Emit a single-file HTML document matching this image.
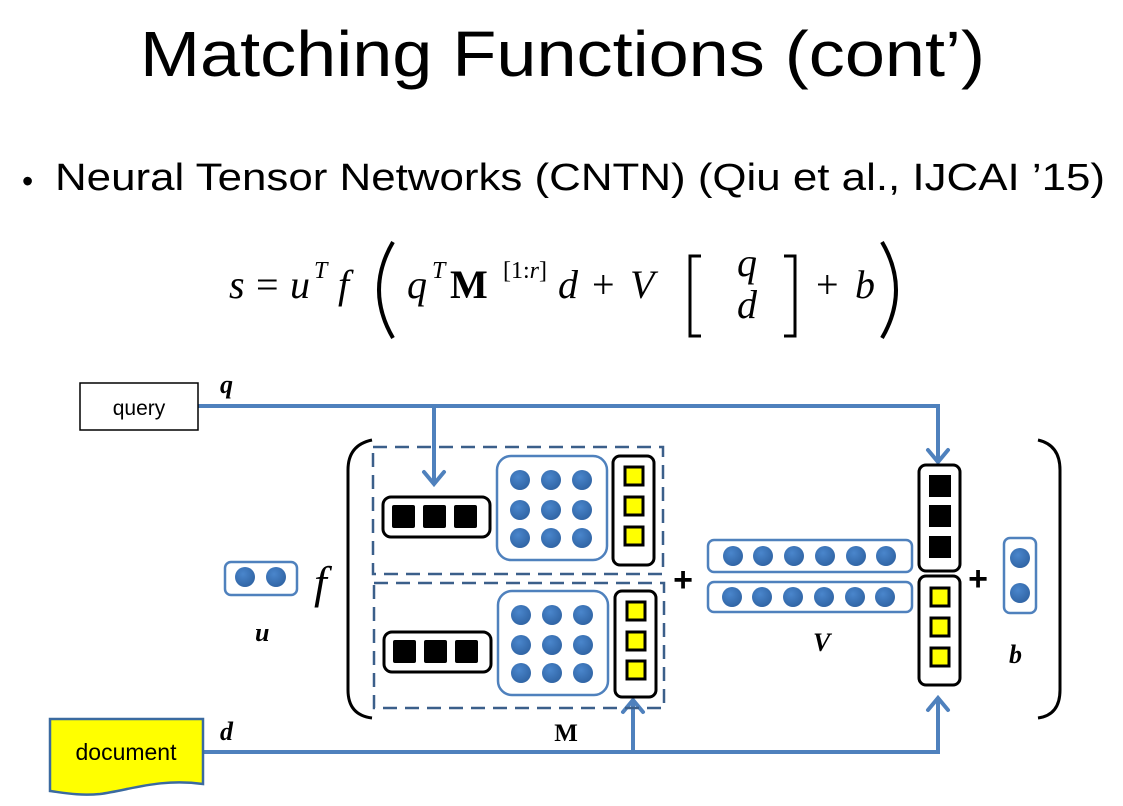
<!DOCTYPE html>
<html><head><meta charset="utf-8"><style>
html,body{margin:0;padding:0;background:#fff;}
svg{display:block;}
</style></head><body>
<svg width="1123" height="806" viewBox="0 0 1123 806" xmlns="http://www.w3.org/2000/svg">
<defs>
<radialGradient id="dg" cx="40%" cy="35%" r="70%"><stop offset="0" stop-color="#4a86cc"/><stop offset="1" stop-color="#2f63a3"/></radialGradient>
</defs>
<g font-family="Liberation Sans, sans-serif" fill="#000">
<text x="140" y="76" font-size="64" textLength="845" lengthAdjust="spacingAndGlyphs">Matching Functions (cont’)</text>
<text x="22" y="192" font-size="32">•</text>
<text x="55" y="190" font-size="38" textLength="1050" lengthAdjust="spacingAndGlyphs">Neural Tensor Networks (CNTN) (Qiu et al., IJCAI ’15)</text>
</g>
<!-- formula -->
<g font-family="Liberation Serif, serif" font-size="40" fill="#000">
<text x="229" y="298" font-style="italic">s</text>
<text x="256" y="298">=</text>
<text x="290" y="298" font-style="italic">u</text>
<text x="314" y="278" font-size="24" font-style="italic">T</text>
<text x="338" y="298" font-style="italic">f</text>
<path d="M393,242 Q365,290 393,338" stroke="#000" stroke-width="4" fill="none"/>
<text x="407" y="298" font-style="italic">q</text>
<text x="432" y="278" font-size="24" font-style="italic">T</text>
<text x="450" y="298" font-weight="bold">M</text>
<text x="503" y="278" font-size="24">[1:<tspan font-style="italic">r</tspan>]</text>
<text x="558" y="298" font-style="italic">d</text>
<text x="592" y="298">+</text>
<text x="630" y="298" font-style="italic">V</text>
<path d="M701,256 H690 V336 H701" stroke="#000" stroke-width="3" fill="none"/>
<text x="737" y="276" font-style="italic">q</text>
<text x="737" y="318" font-style="italic">d</text>
<path d="M784,256 H795 V336 H784" stroke="#000" stroke-width="3" fill="none"/>
<text x="816" y="298">+</text>
<text x="855" y="298" font-style="italic">b</text>
<path d="M882,242 Q910,290 882,338" stroke="#000" stroke-width="4" fill="none"/>
</g>
<!-- connectors -->
<g stroke="#4f81bd" stroke-width="4" fill="none">
<path d="M198,406 H938 V460"/>
<path d="M434,406 V483"/>
<path d="M203,752 H938 V700"/>
<path d="M633,752 V702"/>
</g>
<g stroke="#4f81bd" stroke-width="4" fill="none" stroke-linecap="round">
<path d="M424,472 L434,484 L444,472"/>
<path d="M928,450 L938,462 L948,450"/>
<path d="M623,712 L633,700 L643,712"/>
<path d="M928,710 L938,698 L948,710"/>
</g>
<!-- query / document -->
<rect x="80" y="383" width="118" height="47" fill="#fff" stroke="#000" stroke-width="1.5"/>
<text x="139" y="415" font-family="Liberation Sans, sans-serif" font-size="21" text-anchor="middle">query</text>
<path d="M50,719 H203 V784 C160,778 130,790 100,794 C80,796 65,793 50,791 Z" fill="#ffff00" stroke="#3b6aa0" stroke-width="2.5"/>
<text x="126" y="760" font-family="Liberation Sans, sans-serif" font-size="23" text-anchor="middle">document</text>
<g font-family="Liberation Serif, serif" font-style="italic" font-size="26" font-weight="bold">
<text x="220" y="393">q</text>
<text x="220" y="740">d</text>
<text x="255" y="641">u</text>
<text x="813" y="651">V</text>
<text x="1009" y="663">b</text>
</g>
<text x="314" y="598" font-family="Liberation Serif, serif" font-style="italic" font-size="46">f</text>
<text x="566" y="741" font-family="Liberation Serif, serif" font-weight="bold" font-size="25" text-anchor="middle">M</text>
<!-- big parens -->
<path d="M372,440 Q348,445 348,470 V690 Q348,715 372,718" stroke="#000" stroke-width="3" fill="none"/>
<path d="M1038,440 Q1060,445 1060,470 V690 Q1060,715 1038,718" stroke="#000" stroke-width="3" fill="none"/>
<!-- dashed boxes -->
<rect x="373" y="447" width="290" height="127" fill="none" stroke="#3b5f8a" stroke-width="2.5" stroke-dasharray="14,8"/>
<rect x="374" y="583" width="290" height="125" fill="none" stroke="#3b5f8a" stroke-width="2.5" stroke-dasharray="14,8"/>
<!-- black bars -->
<rect x="383" y="497" width="107" height="40" rx="8" fill="#fff" stroke="#000" stroke-width="3"/>
<rect x="392" y="505" width="23" height="23" rx="2" fill="#000"/>
<rect x="423" y="505" width="23" height="23" rx="2" fill="#000"/>
<rect x="454" y="505" width="23" height="23" rx="2" fill="#000"/>
<rect x="384" y="632" width="107" height="40" rx="8" fill="#fff" stroke="#000" stroke-width="3"/>
<rect x="393" y="640" width="23" height="23" rx="2" fill="#000"/>
<rect x="424" y="640" width="23" height="23" rx="2" fill="#000"/>
<rect x="455" y="640" width="23" height="23" rx="2" fill="#000"/>
<!-- matrices -->
<rect x="497" y="456" width="110" height="104" rx="14" fill="#fff" stroke="#4f81bd" stroke-width="2.5"/>
<rect x="498" y="591" width="110" height="104" rx="14" fill="#fff" stroke="#4f81bd" stroke-width="2.5"/>
<g fill="url(#dg)">
<circle cx="520" cy="480" r="10"/><circle cx="551" cy="480" r="10"/><circle cx="582" cy="480" r="10"/>
<circle cx="520" cy="510" r="10"/><circle cx="551" cy="510" r="10"/><circle cx="582" cy="510" r="10"/>
<circle cx="520" cy="538" r="10"/><circle cx="551" cy="538" r="10"/><circle cx="582" cy="538" r="10"/>
<circle cx="521" cy="615" r="10"/><circle cx="552" cy="615" r="10"/><circle cx="583" cy="615" r="10"/>
<circle cx="521" cy="645" r="10"/><circle cx="552" cy="645" r="10"/><circle cx="583" cy="645" r="10"/>
<circle cx="521" cy="673" r="10"/><circle cx="552" cy="673" r="10"/><circle cx="583" cy="673" r="10"/>
</g>
<!-- yellow columns -->
<rect x="613" y="456" width="41" height="109" rx="7" fill="#fff" stroke="#000" stroke-width="3"/>
<rect x="615" y="591" width="41" height="106" rx="7" fill="#fff" stroke="#000" stroke-width="3"/>
<g fill="#ffff00" stroke="#000" stroke-width="3">
<rect x="625" y="467" width="18" height="18"/><rect x="625" y="497" width="18" height="18"/><rect x="625" y="527" width="18" height="18"/>
<rect x="627" y="602" width="18" height="18"/><rect x="627" y="632" width="18" height="18"/><rect x="627" y="661" width="18" height="18"/>
</g>
<!-- plus signs -->
<g font-family="Liberation Sans, sans-serif" font-weight="bold" font-size="34" text-anchor="middle">
<text x="683" y="591">+</text>
<text x="978" y="590">+</text>
</g>
<!-- V -->
<rect x="708" y="540" width="204" height="32" rx="6" fill="#fff" stroke="#4f81bd" stroke-width="2.5"/>
<rect x="708" y="582" width="204" height="30" rx="6" fill="#fff" stroke="#4f81bd" stroke-width="2.5"/>
<g fill="url(#dg)">
<circle cx="733" cy="556" r="10"/><circle cx="763" cy="556" r="10"/><circle cx="794" cy="556" r="10"/><circle cx="825" cy="556" r="10"/><circle cx="856" cy="556" r="10"/><circle cx="886" cy="556" r="10"/>
<circle cx="732" cy="597" r="10"/><circle cx="762" cy="597" r="10"/><circle cx="793" cy="597" r="10"/><circle cx="824" cy="597" r="10"/><circle cx="855" cy="597" r="10"/><circle cx="885" cy="597" r="10"/>
</g>
<!-- concat -->
<rect x="919" y="465" width="41" height="106" rx="7" fill="#fff" stroke="#000" stroke-width="3"/>
<rect x="929" y="475" width="22" height="22" fill="#000"/><rect x="929" y="505" width="22" height="22" fill="#000"/><rect x="929" y="536" width="22" height="22" fill="#000"/>
<rect x="919" y="576" width="41" height="109" rx="7" fill="#fff" stroke="#000" stroke-width="3"/>
<g fill="#ffff00" stroke="#000" stroke-width="3">
<rect x="931" y="588" width="18" height="18"/><rect x="931" y="618" width="18" height="18"/><rect x="931" y="648" width="18" height="18"/>
</g>
<!-- b -->
<rect x="1004" y="538" width="32" height="75" rx="6" fill="#fff" stroke="#4f81bd" stroke-width="2.5"/>
<circle cx="1020" cy="558" r="10" fill="url(#dg)"/><circle cx="1020" cy="593" r="10" fill="url(#dg)"/>
<!-- u -->
<rect x="225" y="562" width="72" height="33" rx="6" fill="#fff" stroke="#4f81bd" stroke-width="2.5"/>
<circle cx="245" cy="577" r="10" fill="url(#dg)"/><circle cx="276" cy="577" r="10" fill="url(#dg)"/>
</svg>
</body></html>
